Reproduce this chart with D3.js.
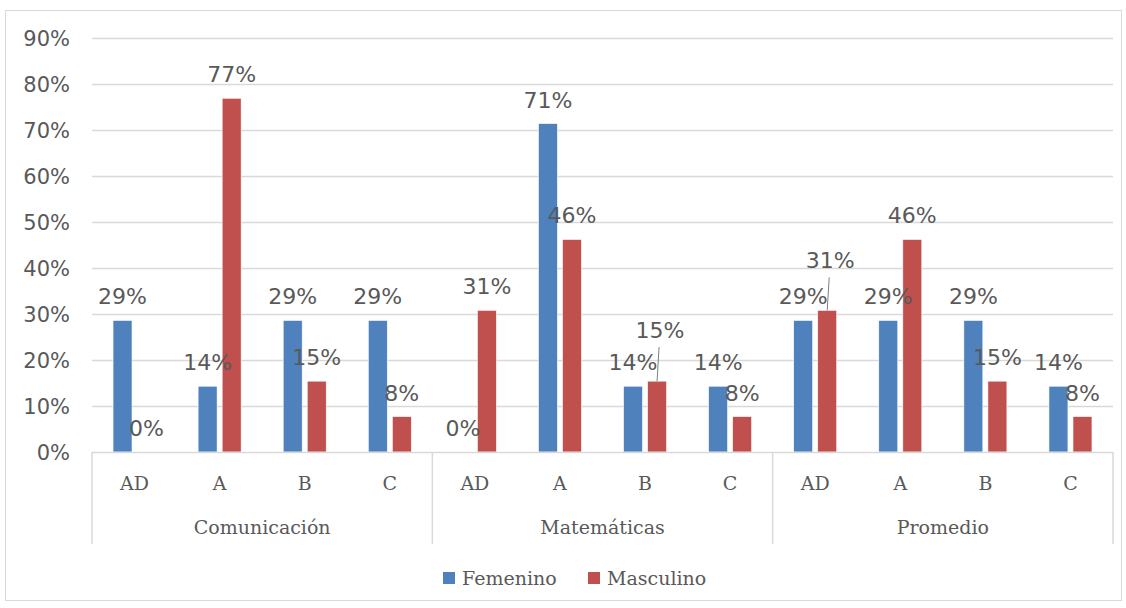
<!DOCTYPE html>
<html>
<head>
<meta charset="utf-8">
<script src="https://cdn.jsdelivr.net/npm/d3@7"></script>
<style>
  body { margin: 0; background: #fff; }
</style>
</head>
<body>
<div id="chart"></div>
<script>
// data
var groups = ["Comunicación", "Matemáticas", "Promedio"];
var levels = ["AD", "A", "B", "C"];
var series = ["Femenino", "Masculino"];
var femenino  = [28.6, 14.3, 28.6, 28.6,   0.0, 71.4, 14.3, 14.3,   28.6, 28.6, 28.6, 14.3];
var masculino = [ 0.0, 76.9, 15.4,  7.7,  30.8, 46.2, 15.4,  7.7,   30.8, 46.2, 15.4,  7.7];
var yTicks = [0, 10, 20, 30, 40, 50, 60, 70, 80, 90];

// labels that were dragged up in the original, with a leader line
var labelLift = { "Masculino|Matemáticas|B": 27, "Masculino|Promedio|AD": 26 };

var colors = { "Femenino": "#4f81bd", "Masculino": "#c0504d" };
var W = 1126, H = 608;
var margin = { top: 38, left: 92, right: 13, bottom: 156 };

var svg = d3.select("#chart").append("svg")
  .attr("width", W).attr("height", H);

// outer border
svg.append("rect")
  .attr("x", 5.5).attr("y", 10.5)
  .attr("width", 1116).attr("height", 590)
  .attr("fill", "#fff").attr("stroke", "#d9d9d9");

var plotW = W - margin.left - margin.right;
var y = d3.scaleLinear().domain([0, 90]).range([452, 38]);

var x0 = d3.scaleBand().domain(groups).range([margin.left, margin.left + plotW]);
var x1 = d3.scaleBand().domain(levels).range([0, x0.bandwidth()]);
var x2 = d3.scaleBand().domain(series).range([0, x1.bandwidth()])
  .paddingInner(0.21).paddingOuter(0.875);

// rows of data
var rows = [];
groups.forEach(function(g, gi) {
  levels.forEach(function(l, li) {
    var i = gi * levels.length + li;
    rows.push({ group: g, level: l, series: "Femenino", value: femenino[i] });
    rows.push({ group: g, level: l, series: "Masculino", value: masculino[i] });
  });
});
function barX(d) { return x0(d.group) + x1(d.level) + x2(d.series); }
function liftOf(d) { return labelLift[d.series + "|" + d.group + "|" + d.level] || 0; }

// gridlines
svg.append("g").selectAll("line")
  .data(yTicks.slice(1))
  .join("line")
    .attr("x1", margin.left).attr("x2", margin.left + plotW)
    .attr("y1", function(d) { return Math.round(y(d)) + 0.5; })
    .attr("y2", function(d) { return Math.round(y(d)) + 0.5; })
    .attr("stroke", "#d9d9d9").attr("stroke-width", 1.5);

// y axis labels
svg.append("g").selectAll("text")
  .data(yTicks)
  .join("text")
    .attr("x", 70)
    .attr("y", function(d) { return y(d); })
    .attr("dy", "0.36em")
    .attr("text-anchor", "end")
    .style("font-family", "DejaVu Sans")
    .style("font-size", "21px")
    .style("fill", "#595959")
    .text(function(d) { return d + "%"; });

// bars
svg.append("g").selectAll("rect")
  .data(rows)
  .join("rect")
    .attr("x", barX)
    .attr("y", function(d) { return y(d.value); })
    .attr("width", x2.bandwidth())
    .attr("height", function(d) { return y(0) - y(d.value); })
    .attr("fill", function(d) { return colors[d.series]; })
    .attr("stroke", "#fff").attr("stroke-width", 0.6);

// baseline
svg.append("line")
  .attr("x1", margin.left).attr("x2", margin.left + plotW)
  .attr("y1", y(0) + 0.5).attr("y2", y(0) + 0.5)
  .attr("stroke", "#d9d9d9").attr("stroke-width", 1.5);

// group separators under the axis
svg.append("g").selectAll("line")
  .data(groups.concat(["end"]))
  .join("line")
    .attr("x1", function(d, i) { return i < groups.length ? x0(d) : margin.left + plotW; })
    .attr("x2", function(d, i) { return i < groups.length ? x0(d) : margin.left + plotW; })
    .attr("y1", y(0)).attr("y2", 544)
    .attr("stroke", "#d9d9d9").attr("stroke-width", 1.5);

// category labels
var catG = svg.append("g");
groups.forEach(function(g) {
  levels.forEach(function(l) {
    catG.append("text")
      .attr("x", x0(g) + x1(l) + x1.bandwidth() / 2)
      .attr("y", 490)
      .attr("text-anchor", "middle")
      .style("font-family", "DejaVu Serif")
      .style("font-size", "19px")
      .style("fill", "#595959")
      .text(l);
  });
});
svg.append("g").selectAll("text")
  .data(groups)
  .join("text")
    .attr("x", function(d) { return x0(d) + x0.bandwidth() / 2; })
    .attr("y", 534)
    .attr("text-anchor", "middle")
    .style("font-family", "DejaVu Serif")
    .style("font-size", "19px")
    .style("fill", "#595959")
    .text(function(d) { return d; });

// leader lines for lifted labels
svg.append("g").selectAll("line")
  .data(rows.filter(function(d) { return liftOf(d) > 0; }))
  .join("line")
    .attr("x1", function(d) { return barX(d) + x2.bandwidth() / 2 + 2; })
    .attr("x2", function(d) { return barX(d) + x2.bandwidth() / 2; })
    .attr("y1", function(d) { return y(d.value) - liftOf(d) - 7; })
    .attr("y2", function(d) { return y(d.value); })
    .attr("stroke", "#7f7f7f").attr("stroke-width", 1);

// data labels
svg.append("g").selectAll("text")
  .data(rows)
  .join("text")
    .attr("x", function(d) { return barX(d) + x2.bandwidth() / 2 + (liftOf(d) ? 3 : 0); })
    .attr("y", function(d) { return y(d.value) - 16 - liftOf(d); })
    .attr("text-anchor", "middle")
    .style("font-family", "DejaVu Sans")
    .style("font-size", "22px")
    .style("fill", "#595959")
    .text(function(d) { return Math.round(d.value) + "%"; });

// legend
var legend = svg.append("g").attr("transform", "translate(443,572)");
var lx = [0, 145];
series.forEach(function(s, i) {
  legend.append("rect")
    .attr("x", lx[i]).attr("y", 0)
    .attr("width", 12).attr("height", 12)
    .attr("fill", colors[s]);
  legend.append("text")
    .attr("x", lx[i] + 19).attr("y", 6)
    .attr("dy", "0.36em")
    .style("font-family", "DejaVu Serif")
    .style("font-size", "19px")
    .style("fill", "#595959")
    .text(s);
});
</script>
</body>
</html>
